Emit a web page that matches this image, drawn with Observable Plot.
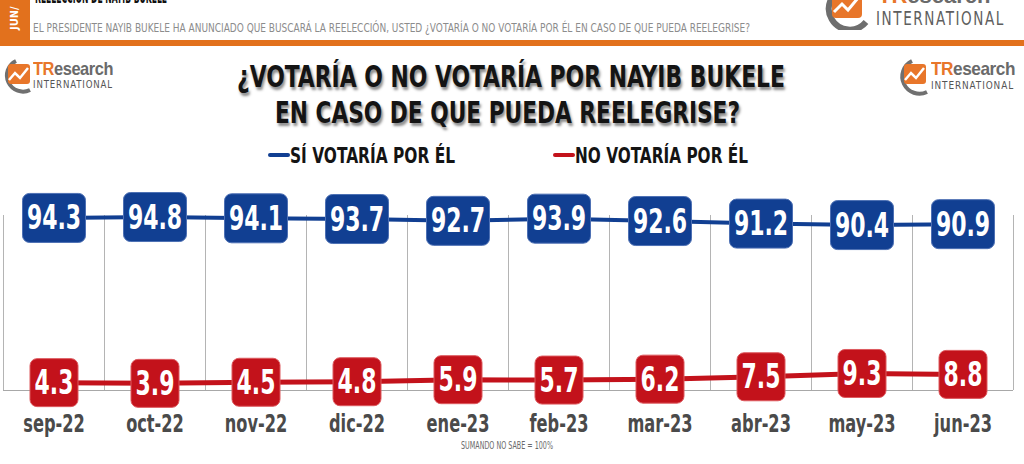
<!DOCTYPE html>
<html>
<head>
<meta charset="utf-8">
<script src="https://cdn.jsdelivr.net/npm/d3@7"></script>
<script src="https://cdn.jsdelivr.net/npm/@observablehq/plot@0.6"></script>
<style>
  html, body { margin: 0; padding: 0; background: #fff; }
  #page { position: relative; width: 1024px; height: 464px; overflow: hidden; background: #fff;
    font-family: "Liberation Sans Narrow", "DejaVu Sans Condensed", "Roboto", sans-serif; font-stretch: condensed; }
  .abs { position: absolute; white-space: nowrap; line-height: 1; transform-origin: 0 50%; }
  svg text { font-stretch: condensed; }
  #chart { position: absolute; left: 0; top: 164px; }
</style>
</head>
<body>
<div id="page">
  <!-- header -->
  <div class="abs" style="left:0;top:0;width:30px;height:46px;background:#e2711d;"></div>
  <div class="abs" style="left:0;top:40px;width:1024px;height:6px;background:#e2711d;"></div>
  <div class="abs" style="left:9px;top:30px;color:#fff;font-size:11px;font-weight:bold;transform:rotate(-90deg);transform-origin:0 0;">JUN/</div>
  <div class="abs fit" data-w="132" style="left:35px;top:-11px;font-size:17px;font-weight:bold;color:#111;">REELECCIÓN DE NAYIB BUKELE</div>
  <div class="abs fit" data-w="717" style="left:33px;top:21px;font-size:13px;color:#8c8c8c;">EL PRESIDENTE NAYIB BUKELE HA ANUNCIADO QUE BUSCARÁ LA REELECCIÓN, USTED ¿VOTARÍA O NO VOTARÍA POR ÉL EN CASO DE QUE PUEDA REELEGRISE?</div>

  <!-- top-right cut logo -->
  <svg class="abs" style="left:816px;top:-14px" width="58" height="44" viewBox="0 0 58 44">
    <path d="M30 2 A 21 21 0 1 0 50 36" fill="none" stroke="#6e6e6e" stroke-width="6"/>
    <rect x="16" y="8" width="30" height="24" rx="4" fill="#e8762a"/>
    <polyline points="18,26 26,18 32,24 42,12" fill="none" stroke="#fff" stroke-width="3"/>
  </svg>
  <div class="abs" style="left:878px;top:-15px;font-size:22px;font-weight:bold;font-family:'Liberation Sans','DejaVu Sans',sans-serif;font-stretch:normal;"><span style="color:#e8762a">TR</span><span style="color:#6a6a6a">esearch</span></div>
  <div class="abs fit" data-w="129" style="left:876px;top:9px;font-size:19px;color:#5e5e5e;letter-spacing:2px;">INTERNATIONAL</div>

  <!-- left logo -->
  <svg class="abs" style="left:0px;top:58px" width="34" height="38" viewBox="0 0 34 38">
    <path d="M16 3 A 15 15 0 1 0 30 32" fill="none" stroke="#707070" stroke-width="4"/>
    <rect x="8" y="6" width="22" height="20" rx="3" fill="#e8762a"/>
    <polyline points="9,22 15,15 20,20 28,10" fill="none" stroke="#fff" stroke-width="2.5"/>
  </svg>
  <div class="abs fit" data-w="80" style="left:33px;top:59px;font-size:19px;font-weight:bold;font-family:'Liberation Sans','DejaVu Sans',sans-serif;font-stretch:normal;letter-spacing:-0.5px;"><span style="color:#e8762a">TR</span><span style="color:#6a6a6a">esearch</span></div>
  <div class="abs fit" data-w="80" style="left:33px;top:79px;font-size:11px;color:#555;letter-spacing:1px;">INTERNATIONAL</div>

  <!-- right logo -->
  <svg class="abs" style="left:894px;top:58px" width="38" height="40" viewBox="0 0 38 40">
    <path d="M18 3 A 16 16 0 1 0 33 34" fill="none" stroke="#707070" stroke-width="4"/>
    <rect x="10" y="6" width="22" height="20" rx="3" fill="#e8762a"/>
    <polyline points="11,22 17,15 22,20 30,10" fill="none" stroke="#fff" stroke-width="2.5"/>
  </svg>
  <div class="abs fit" data-w="84" style="left:931px;top:59px;font-size:19px;font-weight:bold;font-family:'Liberation Sans','DejaVu Sans',sans-serif;font-stretch:normal;letter-spacing:-0.5px;"><span style="color:#e8762a">TR</span><span style="color:#6a6a6a">esearch</span></div>
  <div class="abs fit" data-w="83" style="left:931px;top:80px;font-size:11px;color:#555;letter-spacing:1px;">INTERNATIONAL</div>

  <!-- title -->
  <div class="abs fit" data-w="548" style="left:237px;top:61px;font-size:31px;font-weight:bold;color:#141414;text-shadow:2px 3px 3px rgba(0,0,0,0.45);">¿VOTARÍA O NO VOTARÍA POR NAYIB BUKELE</div>
  <div class="abs fit" data-w="465" style="left:275px;top:97px;font-size:31px;font-weight:bold;color:#141414;text-shadow:2px 3px 3px rgba(0,0,0,0.45);">EN CASO DE QUE PUEDA REELEGRISE?</div>

  <!-- legend -->
  <div id="legend"></div>

  <div id="chart"></div>

  <div id="foot" class="abs fit" data-w="92" style="left:461px;top:441px;font-size:10px;color:#6a6a6a;"></div>
</div>

<script>
// ---- data ----
const months = ["sep-22","oct-22","nov-22","dic-22","ene-23","feb-23","mar-23","abr-23","may-23","jun-23"];
const siVotaria = [94.3, 94.8, 94.1, 93.7, 92.7, 93.9, 92.6, 91.2, 90.4, 90.9];
const noVotaria = [4.3, 3.9, 4.5, 4.8, 5.9, 5.7, 6.2, 7.5, 9.3, 8.8];
const seriesNames = ["SÍ VOTARÍA POR ÉL", "NO VOTARÍA POR ÉL"];
const seriesColors = ["#113f92", "#c3121b"];
const footnote = "SUMANDO NO SABE = 100%";

document.getElementById("foot").textContent = footnote;

const siRows = months.map((m, i) => ({i, month: m, value: siVotaria[i]}));
const noRows = months.map((m, i) => ({i, month: m, value: noVotaria[i]}));

// legend
const legendPos = [{left: 268, w: 165}, {left: 553, w: 173}];
const legend = document.getElementById("legend");
seriesNames.forEach((name, k) => {
  const dash = document.createElement("div");
  dash.className = "abs";
  dash.style.cssText = `left:${legendPos[k].left}px;top:153px;width:22px;height:4px;border-radius:2px;background:${seriesColors[k]};`;
  legend.appendChild(dash);
  const t = document.createElement("div");
  t.className = "abs fit";
  t.dataset.w = legendPos[k].w;
  t.style.cssText = `left:${legendPos[k].left + 22}px;top:145px;font-size:22px;font-weight:bold;color:#141414;`;
  t.textContent = name;
  legend.appendChild(t);
});

// rounded rect symbol
function roundRect(w, h, r) {
  return {
    draw(ctx) {
      const x = -w / 2, y = -h / 2;
      ctx.moveTo(x + r, y);
      ctx.lineTo(x + w - r, y);
      ctx.arcTo(x + w, y, x + w, y + r, r);
      ctx.lineTo(x + w, y + h - r);
      ctx.arcTo(x + w, y + h, x + w - r, y + h, r);
      ctx.lineTo(x + r, y + h);
      ctx.arcTo(x, y + h, x, y + h - r, r);
      ctx.lineTo(x, y + r);
      ctx.arcTo(x, y, x + r, y, r);
      ctx.closePath();
    }
  };
}

const fmt = d3.format(".1f");
const xpos = d => d.i + 0.5;
const font = "Liberation Sans Narrow, DejaVu Sans Condensed, Roboto, sans-serif";

const chart = Plot.plot({
  width: 1024,
  height: 300,
  marginLeft: 3,
  marginRight: 11,
  marginTop: 43,
  marginBottom: 74,
  x: {domain: [0, months.length], axis: null},
  y: {domain: [0, 100], axis: null},
  style: {fontFamily: font, background: "transparent", overflow: "visible"},
  marks: [
    Plot.ruleX(d3.range(months.length + 1), {y1: 0, y2: 100, insetBottom: -8, stroke: "#b4b4b4", strokeWidth: 1}),
    Plot.ruleY([0], {stroke: "#a8a8a8", strokeWidth: 1.2}),
    Plot.line(siRows, {x: xpos, y: "value", stroke: seriesColors[0], strokeWidth: 4}),
    Plot.line(noRows, {x: xpos, y: "value", stroke: seriesColors[1], strokeWidth: 5}),
    Plot.dot(siRows, {x: xpos, y: "value", symbol: roundRect(63, 49, 7), r: 5, fill: seriesColors[0], stroke: "#4d70b4", strokeWidth: 1}),
    Plot.dot(noRows, {x: xpos, y: "value", symbol: roundRect(48, 48, 7), r: 5, fill: seriesColors[1], stroke: "#dd5a5f", strokeWidth: 1}),
    Plot.text(siRows, {x: xpos, y: "value", text: d => fmt(d.value), fill: "#fff", fontSize: 33, fontWeight: "bold", dy: 1}),
    Plot.text(noRows, {x: xpos, y: "value", text: d => fmt(d.value), fill: "#fff", fontSize: 33, fontWeight: "bold", dy: 1}),
    Plot.text(siRows, {x: xpos, text: "month", frameAnchor: "bottom", dy: 41, fill: "#4a4a4a", fontSize: 25, fontWeight: "bold"})
  ]
});
document.getElementById("chart").appendChild(chart);

// condense the chart's texts horizontally (no narrow font installed)
const textGroups = chart.querySelectorAll('g[aria-label="text"]');
textGroups.forEach((g, gi) => {
  const s = gi < 2 ? 0.74 : 0.72;
  g.querySelectorAll("text").forEach(t => {
    const len = t.getComputedTextLength();
    if (len > 0) {
      t.setAttribute("textLength", (len * s).toFixed(1));
      t.setAttribute("lengthAdjust", "spacingAndGlyphs");
    }
  });
});

// fit text widths
document.querySelectorAll(".fit").forEach(el => {
  const target = +el.dataset.w;
  const actual = el.getBoundingClientRect().width;
  if (actual > 0) el.style.transform = (el.style.transform || "") + ` scaleX(${target / actual})`;
});
</script>
</body>
</html>
